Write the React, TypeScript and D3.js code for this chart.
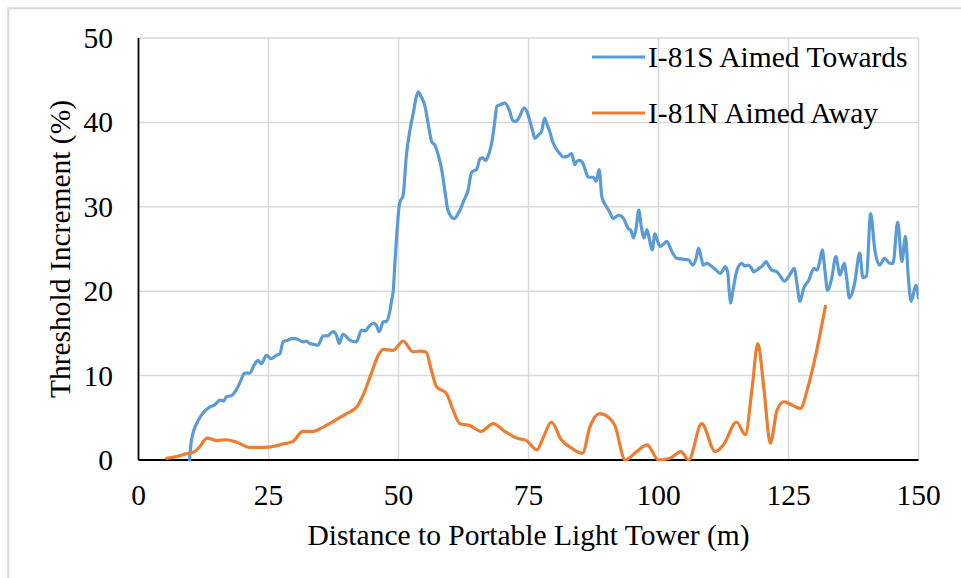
import React from "react";
import * as d3 from "d3";

const xTicks = [0, 25, 50, 75, 100, 125, 150];
const yTicks = [0, 10, 20, 30, 40, 50];

const seriesNames = ["I-81S Aimed Towards", "I-81N Aimed Away"];
const seriesColors = ["#5B9BD5", "#ED7D31"];

const southX = [9.8,10.2,11.5,12.6,13.75,14.6,15.7,16.4,16.9,17.8,18.8,19.6,20.4,21.4,22.2,23.0,23.6,24.6,25.5,26.5,27.2,27.8,28.7,29.7,30.6,31.6,32.3,32.9,33.7,34.5,35.5,36.3,37.4,38.0,38.6,39.3,40.0,40.6,41.9,42.9,43.6,44.3,45.1,45.7,46.3,47.1,47.7,48.3,48.7,49.0,49.3,49.7,50.2,50.9,51.5,52.2,52.8,53.8,54.4,55.1,55.8,56.4,57.0,57.7,58.3,58.9,59.5,60.7,61.8,62.6,63.4,64.0,64.3,65.0,65.7,66.2,66.8,67.4,67.9,68.5,68.9,69.6,70.4,70.9,71.4,71.9,72.4,72.9,73.3,74.1,74.7,75.3,75.8,76.2,76.9,77.5,78.1,78.6,79.1,79.6,80.1,80.9,81.7,82.5,83.3,83.9,84.3,84.8,85.5,86.0,86.5,87.5,88.0,88.6,89.1,90.0,90.6,91.3,92.3,92.8,93.3,94.2,94.7,95.2,95.7,96.2,96.7,97.2,97.8,98.3,98.8,99.3,99.8,100.3,101.0,101.6,102.5,103.5,104.6,105.8,106.6,107.2,107.7,108.2,108.6,109.3,109.9,110.9,111.9,112.4,112.8,113.3,113.6,113.9,114.3,115.1,116.0,116.6,117.3,117.8,118.3,119.3,120.0,120.7,121.2,121.8,122.8,123.5,124.2,125.2,126.1,126.6,127.2,127.9,128.9,129.9,130.5,131.0,131.5,132.0,132.5,133.3,134.1,134.9,135.7,136.2,136.7,137.7,138.7,139.3,140.0,140.8,141.6,142.5,143.5,144.5,145.1,146.0,146.8,147.5,148.0,148.6,149.5,150.0];
const southY = [0,2.4,4.7,5.7,6.3,6.5,7.1,7.0,7.5,7.6,8.3,9.3,10.3,10.3,11.2,11.8,11.4,12.4,12.0,12.4,12.6,14.0,14.2,14.4,14.3,14.0,14.1,13.8,13.7,13.6,14.7,14.7,15.2,14.9,13.8,14.9,14.6,14.2,14.0,15.4,15.3,15.8,16.2,16.0,15.2,16.4,16.4,17.5,19.0,20.1,23.3,27.0,30.4,31.4,36.0,39.1,41.0,43.6,43.0,41.9,39.5,37.7,37.3,36.0,34.4,32.0,29.6,28.6,29.6,30.8,32.0,34.0,34.2,34.4,35.7,35.8,35.5,36.3,37.5,40.0,41.9,42.1,42.3,42.0,41.3,40.3,40.1,40.3,40.7,41.7,41.3,40.1,39.0,38.1,38.5,38.9,40.5,39.7,38.9,37.8,37.1,36.4,35.9,36.0,36.3,35.0,35.4,35.5,35.1,34.2,33.5,33.5,33.0,34.4,31.2,30.0,29.4,28.6,29.0,28.9,28.6,27.4,27.2,26.3,27.5,29.6,27.6,26.3,27.3,26.0,24.9,26.8,26.0,25.3,25.6,25.9,24.8,23.9,23.8,23.7,23.1,23.8,25.1,24.0,23.1,23.3,23.1,22.6,22.1,22.5,22.9,22.3,20.0,18.6,20.0,22.5,23.3,23.0,23.1,22.8,22.3,22.7,23.0,23.5,23.0,22.5,22.3,21.7,21.2,21.9,22.7,21.0,18.8,20.3,21.3,22.7,22.5,23.5,24.9,22.5,20.1,21.5,24.1,21.9,23.3,21.5,19.2,20.9,24.5,21.6,21.8,29.2,24.9,23.1,23.9,23.3,23.3,28.2,23.5,26.5,22.0,18.8,20.7,19.2];

const northX = [5.4,7.3,8.9,10.8,11.8,13.2,15.0,16.9,18.9,21.4,24.0,25.9,27.8,29.7,31.6,33.6,35.5,38.1,40.0,42.0,43.2,44.8,46.1,47.1,49.0,50.9,52.8,54.1,55.3,56.3,57.3,59.2,60.5,61.8,63.7,65.9,68.2,70.4,72.7,74.6,76.6,77.8,79.4,81.3,83.3,85.4,86.8,88.7,90.3,91.6,93.6,95.8,97.8,100.0,102.2,104.3,105.8,108.3,110.9,112.5,115.0,116.7,118.0,119.1,120.3,121.5,122.8,124.1,125.7,127.3,128.6,129.9,131.1,132.1];
const northY = [0.2,0.4,0.7,1.0,1.6,2.6,2.3,2.4,2.1,1.5,1.5,1.6,1.9,2.2,3.4,3.4,3.9,4.8,5.5,6.3,7.7,10.3,12.4,13.1,13.0,14.1,12.8,12.9,12.8,10.7,8.7,7.9,5.9,4.3,4.1,3.4,4.3,3.4,2.6,2.3,1.2,2.6,4.5,2.4,1.4,0.8,3.9,5.5,5.1,4.1,0,1.0,1.8,0,0.2,1.0,0,4.3,1.0,1.8,4.5,3.0,8.5,13.8,8.3,2.0,5.9,6.9,6.5,6.1,8.3,11.5,15.0,18.2];

const FONT = "'Liberation Serif', 'Times New Roman', Times, 'DejaVu Serif', serif";
const textStyle = { fontFamily: FONT, fontSize: "29.5px", fill: "#000" };

export default function App() {
  const W = 961, H = 578;
  const left = 138.5, right = 918.5, top = 38, bottom = 460;
  const x = d3.scaleLinear().domain([0, 150]).range([left, right]);
  const y = d3.scaleLinear().domain([0, 50]).range([bottom, top]);

  const south = southX.map((v, i) => [v, southY[i]] as [number, number]);
  const north = northX.map((v, i) => [v, northY[i]] as [number, number]);

  const lineGen = d3
    .line<[number, number]>()
    .x((d) => x(d[0]))
    .y((d) => y(d[1]))
    .curve(d3.curveMonotoneX);

  const series = [south, north];

  return (
    <svg
      width={W}
      height={H}
      style={{ position: "absolute", left: 0, top: 0, background: "#fff", fontFamily: FONT }}
    >
      <defs>
        <clipPath id="plotClip">
          <rect x={left} y={top - 5} width={right - left} height={bottom - top + 10} />
        </clipPath>
      </defs>
      <path d={`M8.3,${H + 5} L8.3,8.3 L${W + 5},8.3`} fill="none" stroke="#D9D9D9" strokeWidth={2} />

      {xTicks.filter((t) => t > 0).map((t) => (
        <line key={"gx" + t} x1={x(t)} x2={x(t)} y1={top} y2={bottom} stroke="#D9D9D9" strokeWidth={1.5} />
      ))}
      {yTicks.filter((t) => t > 0).map((t) => (
        <line key={"gy" + t} x1={left} x2={right} y1={y(t)} y2={y(t)} stroke="#D9D9D9" strokeWidth={1.5} />
      ))}

      <line x1={left} x2={left} y1={top} y2={bottom} stroke="#000" strokeWidth={1.8} />
      <line x1={left} x2={right} y1={bottom} y2={bottom} stroke="#000" strokeWidth={1.8} />

      {yTicks.map((t) => (
        <text key={"ty" + t} x={113} y={y(t) + 10} textAnchor="end" style={textStyle}>
          {t}
        </text>
      ))}
      {xTicks.map((t) => (
        <text key={"tx" + t} x={x(t)} y={505} textAnchor="middle" style={textStyle}>
          {t}
        </text>
      ))}

      <text x={(left + right) / 2} y={545} textAnchor="middle" style={textStyle}>
        Distance to Portable Light Tower (m)
      </text>
      <text
        transform={`translate(70, ${(top + bottom) / 2}) rotate(-90)`}
        textAnchor="middle"
        style={textStyle}
      >
        Threshold Increment (%)
      </text>

      <g clipPath="url(#plotClip)">
        {series.map((s, i) => (
          <path
            key={"s" + i}
            d={lineGen(s) || ""}
            fill="none"
            stroke={seriesColors[i]}
            strokeWidth={3.2}
            strokeLinejoin="round"
            strokeLinecap="round"
          />
        ))}
      </g>

      {seriesNames.map((n, i) => (
        <g key={"lg" + i}>
          <line x1={592} x2={645} y1={57 + i * 56} y2={57 + i * 56} stroke={seriesColors[i]} strokeWidth={3.2} />
          <text x={648} y={67 + i * 56} style={textStyle}>
            {n}
          </text>
        </g>
      ))}
    </svg>
  );
}
